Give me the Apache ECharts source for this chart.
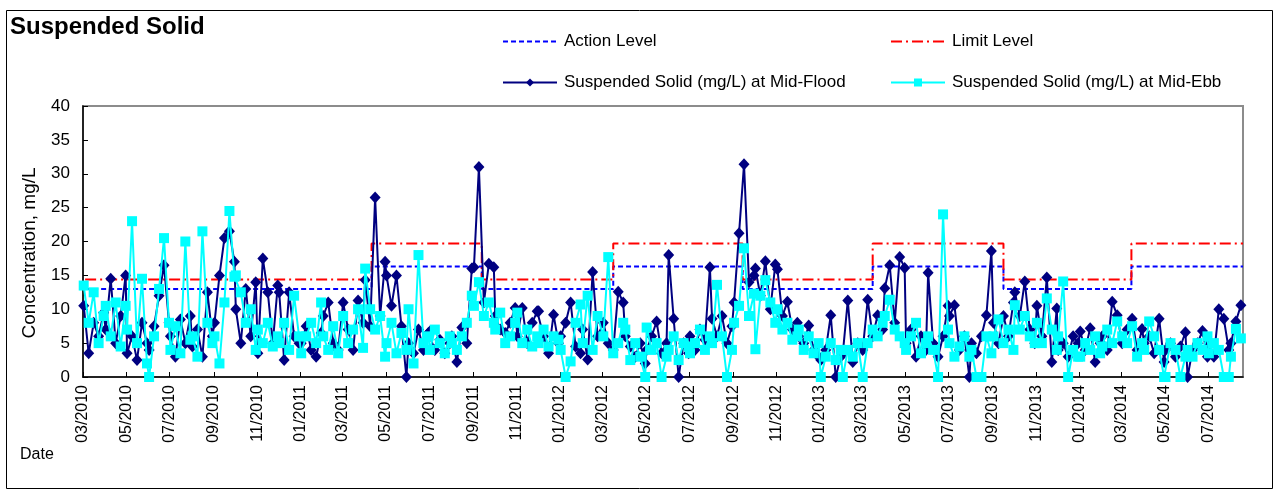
<!DOCTYPE html>
<html>
<head>
<meta charset="utf-8">
<script src="https://cdn.jsdelivr.net/npm/echarts@6/dist/echarts.min.js"></script>
<style>
html,body{margin:0;padding:0;background:#fff;}
#chart{width:1278px;height:490px;}
</style>
</head>
<body>
<div id="chart"></div>
<script>
// ---- Data ----
const dates = [
'2010-03-02','2010-03-09','2010-03-16','2010-03-23','2010-03-30',
'2010-04-02','2010-04-09','2010-04-16','2010-04-23','2010-04-30',
'2010-05-02','2010-05-09','2010-05-16','2010-05-23','2010-05-30',
'2010-06-02','2010-06-09','2010-06-16','2010-06-23','2010-06-30',
'2010-07-02','2010-07-09','2010-07-16','2010-07-23','2010-07-30',
'2010-08-02','2010-08-09','2010-08-16','2010-08-23','2010-08-30',
'2010-09-02','2010-09-09','2010-09-16','2010-09-23','2010-09-30',
'2010-10-02','2010-10-09','2010-10-16','2010-10-23','2010-10-30',
'2010-11-02','2010-11-09','2010-11-16','2010-11-23','2010-11-30',
'2010-12-02','2010-12-09','2010-12-16','2010-12-23','2010-12-30',
'2011-01-02','2011-01-09','2011-01-16','2011-01-23','2011-01-30',
'2011-02-02','2011-02-09','2011-02-16','2011-02-23',
'2011-03-02','2011-03-09','2011-03-16','2011-03-23','2011-03-30',
'2011-04-02','2011-04-09','2011-04-16','2011-04-23','2011-04-30',
'2011-05-02','2011-05-09','2011-05-16','2011-05-23','2011-05-30',
'2011-06-02','2011-06-09','2011-06-16','2011-06-23','2011-06-30',
'2011-07-02','2011-07-09','2011-07-16','2011-07-23','2011-07-30',
'2011-08-02','2011-08-09','2011-08-16','2011-08-23','2011-08-30',
'2011-09-02','2011-09-09','2011-09-16','2011-09-23','2011-09-30',
'2011-10-02','2011-10-09','2011-10-16','2011-10-23','2011-10-30',
'2011-11-02','2011-11-09','2011-11-16','2011-11-23','2011-11-30',
'2011-12-02','2011-12-09','2011-12-16','2011-12-23','2011-12-30',
'2012-01-02','2012-01-09','2012-01-16','2012-01-23','2012-01-30',
'2012-02-02','2012-02-09','2012-02-16','2012-02-23',
'2012-03-02','2012-03-09','2012-03-16','2012-03-23','2012-03-30',
'2012-04-02','2012-04-09','2012-04-16','2012-04-23','2012-04-30',
'2012-05-02','2012-05-09','2012-05-16','2012-05-23','2012-05-30',
'2012-06-02','2012-06-09','2012-06-16','2012-06-23','2012-06-30',
'2012-07-02','2012-07-09','2012-07-16','2012-07-23','2012-07-30',
'2012-08-02','2012-08-09','2012-08-16','2012-08-23','2012-08-30',
'2012-09-02','2012-09-09','2012-09-16','2012-09-23','2012-09-30',
'2012-10-02','2012-10-09','2012-10-16','2012-10-23','2012-10-30',
'2012-11-02','2012-11-09','2012-11-16','2012-11-23','2012-11-30',
'2012-12-02','2012-12-09','2012-12-16','2012-12-23','2012-12-30',
'2013-01-02','2013-01-09','2013-01-16','2013-01-23','2013-01-30',
'2013-02-02','2013-02-09','2013-02-16','2013-02-23',
'2013-03-02','2013-03-09','2013-03-16','2013-03-23','2013-03-30',
'2013-04-02','2013-04-09','2013-04-16','2013-04-23','2013-04-30',
'2013-05-02','2013-05-09','2013-05-16','2013-05-23','2013-05-30',
'2013-06-02','2013-06-09','2013-06-16','2013-06-23','2013-06-30',
'2013-07-02','2013-07-09','2013-07-16','2013-07-23','2013-07-30',
'2013-08-02','2013-08-09','2013-08-16','2013-08-23','2013-08-30',
'2013-09-02','2013-09-09','2013-09-16','2013-09-23','2013-09-30',
'2013-10-02','2013-10-09','2013-10-16','2013-10-23','2013-10-30',
'2013-11-02','2013-11-09','2013-11-16','2013-11-23','2013-11-30',
'2013-12-02','2013-12-09','2013-12-16','2013-12-23','2013-12-30',
'2014-01-02','2014-01-09','2014-01-16','2014-01-23','2014-01-30',
'2014-02-02','2014-02-09','2014-02-16','2014-02-23',
'2014-03-02','2014-03-09','2014-03-16','2014-03-23','2014-03-30',
'2014-04-02','2014-04-09','2014-04-16','2014-04-23','2014-04-30',
'2014-05-02','2014-05-09','2014-05-16','2014-05-23','2014-05-30',
'2014-06-02','2014-06-09','2014-06-16','2014-06-23','2014-06-30',
'2014-07-02','2014-07-09','2014-07-16','2014-07-23','2014-07-30',
'2014-08-02','2014-08-09','2014-08-16'
];

const midFlood = [
10.5,3.5,8,6,9.5,
7,14.5,5,9,15,
3.5,6,2.5,8,5,
4,7.5,12,16.5,8,
6,3,8.5,5,9,
4.5,7,3,12.5,6,
8,15,20.5,21.5,17,
10,5,13,6,14,
3.5,17.5,12.5,5,13.5,
12.5,2.5,12.5,6,5,
5,7.5,4,3,6.5,
9,11,5,4,
11,7,4,11.3,8,
14.3,7.5,26.5,9,17,
15,10.5,15,7.5,0,
5,3.5,7,4,6.5,
6.7,4,5.5,3.5,5,
6,2.2,7.3,5,16,
16.2,31,11,16.7,16.2,
9,7,6.5,8,10.2,
6,10.2,5,8,9.7,
9.7,6,3.5,9.2,5,
6,8,11,4.5,3.5,
7,2.6,15.5,6,
8,5,4,12.6,11,
6,4.5,3,5,2,
4,6,8.2,3.5,5,
18,8.6,0,5,3.5,
6,4,7,5.5,16.2,
8.6,6,9,5,7.5,
11,21.2,31.4,14,15,
16,12,17.1,10,16.6,
15.9,9,11.1,7,8,
6,5,7.6,4,3,
2.5,4,9.1,0,3,
3.5,11.3,2.2,5,
4,11.4,6,9.1,7,
13.1,16.5,8,17.7,16.1,
5,7,3,6,4,
15.4,5,3,6,10.5,
9,10.6,4,6,0,
5,3.5,6,9.1,18.6,
8,5,9,6,11,
12.5,9,14.1,7,5,
10.5,6,14.7,2.2,10.1,
4,5,3,6,5,
6.7,4,7.2,2.2,5,
6,4,11.1,9.1,
5,7,8.6,4,7.1,
5,6,3.5,8.6,2.2,
4,5,3,4.5,6.6,
0,4,5,6.8,3,
5,3,10,8.6,4,
5,8.2,10.6
];

const midEbb = [
13.5,8,12.5,5,9,
10.5,6,11,4.5,10.5,
7,23,5,14.5,2,
0,6,13,20.5,8,
4,7.5,3.5,20,5.5,
6,3,21.5,8,5,
6,2,11,24.5,14.8,
15,12.5,8,10,4,
7,5,8,4.5,6,
5,8,4,12,6,
3.5,6,8,5,11,
6,4,7.5,3.5,
9,5,7,10,4.3,
16,10,7,9,3,
5,8,3.5,6.5,4,
10,2,18,5,6,
4,7,5,3.5,6,
5,4,6,8,12,
10.5,14,9,11,8,
7,9.5,5,6,8,
9.5,5,7,4.5,6,
5,7,4.5,6,5.5,
4,0,2.3,8,10.7,
5,12,4,9,
6,17.7,3.5,5,8,
7,2.5,5,3,0,
7.3,4,5,0,3,
4,6,2.5,5,4.5,
3.5,5,7,4,6,
5,13.6,6,0,4,
8,10.5,19,9,12.3,
4.1,12,14.3,11,8,
10,7,8,5.5,6,
7,4,6,3.5,5,
0,3,5,2.5,4,
0,4,3,5,
0,5,7,6,8,
9,11.4,7,6,5,
4,6,8,3.5,5,
6,4,0,24,7,
5,3,4.5,6,3,
4,0,0,6,3.5,
6,8.5,5,7,4,
10.6,7,9,6,5,
8,5,11.6,7,4,
6,14.1,0,4,3,
3,5,4,6,3.5,
4.5,7,5,8.2,
6,5,7.5,3,5,
4,8.2,6,4,0,
0,5,4,0,3,
4,3,5,4,6,
3.5,5,4,0,0,
3,7.1,5.7
];

// Action / Limit level step changes
const levelDates  = ['2010-03-04','2011-04-11','2011-09-13','2012-03-16','2012-09-14','2013-03-16','2013-09-16','2014-03-15','2014-08-19'];
const actionLevel = [13.0,16.3,13.0,16.3,13.0,16.3,13.0,16.3,16.3];
const limitLevel  = [14.4,19.7,14.4,19.7,14.4,19.7,14.4,19.7,19.7];

// x-axis tick labels
const tickLabels = ['03/2010','05/2010','07/2010','09/2010','11/2010','01/2011','03/2011','05/2011','07/2011','09/2011','11/2011',
  '01/2012','03/2012','05/2012','07/2012','09/2012','11/2012','01/2013','03/2013','05/2013','07/2013','09/2013','11/2013',
  '01/2014','03/2014','05/2014','07/2014'];
const yTicks = [0,5,10,15,20,25,30,35,40];
const axisStart = '2010-03-01';
const axisEnd = '2014-08-19';

// ---- helpers ----
function parseDate(s){ const p=s.split('-').map(Number); return Date.UTC(p[0],p[1]-1,p[2]||1); }
function parseTick(s){ const p=s.split('/').map(Number); return Date.UTC(p[1],p[0]-1,1); }
function fmt(v){
  const i = tickValues.indexOf(v);
  if (i >= 0) return tickLabels[i];
  const d=new Date(v); const m=d.getUTCMonth()+1; return (m<10?'0':'')+m+'/'+d.getUTCFullYear();
}

const tickValues = tickLabels.map(parseTick);
const FONT = '"Liberation Sans", Arial, sans-serif';

const floodData = dates.map((d,i)=>[parseDate(d), midFlood[i]]);
const ebbData = dates.map((d,i)=>[parseDate(d), midEbb[i]]);
const actionData = levelDates.map((d,i)=>[parseDate(d), actionLevel[i]]);
const limitData = levelDates.map((d,i)=>[parseDate(d), limitLevel[i]]);

const chart = echarts.init(document.getElementById('chart'), null, {renderer:'canvas'});

function legendAt(name, left, top, hideSymbol){
  const l = {
    data:[name], left:left, top:top, padding:0, itemWidth:54, itemHeight:10, itemGap:0,
    textStyle:{fontFamily:FONT, fontSize:17, color:'#000', padding:[0,0,0,2]},
    selectedMode:false
  };
  if (hideSymbol) l.itemStyle = {opacity:0};
  return l;
}

chart.setOption({
  animation:false,
  backgroundColor:'#fff',
  textStyle:{fontFamily:FONT},
  grid:{left:83, right:35, top:106, bottom:113, show:true, borderColor:'#8c8c8c', borderWidth:2, backgroundColor:'transparent'},
  legend:[
    legendAt('Action Level', 502, 33, true),
    legendAt('Limit Level', 890, 33, true),
    legendAt('Suspended Solid (mg/L) at Mid-Flood', 502, 74, false),
    legendAt('Suspended Solid (mg/L) at Mid-Ebb', 890, 74, false)
  ],
  xAxis:{
    type:'value', min:parseDate(axisStart), max:parseDate(axisEnd), scale:true,
    axisLine:{show:true, onZero:false, lineStyle:{color:'#000', width:1.5}},
    axisTick:{show:true, inside:true, length:5, customValues:tickValues, lineStyle:{color:'#000', width:1}},
    axisLabel:{show:true, rotate:90, margin:8, customValues:tickValues, formatter:function(v){return fmt(v);},
      fontFamily:FONT, fontSize:16, color:'#000', hideOverlap:false},
    splitLine:{show:false}
  },
  yAxis:{
    type:'value', min:0, max:40, interval:5,
    axisLine:{show:true, lineStyle:{color:'#000', width:1.5}},
    axisTick:{show:true, inside:true, length:5, lineStyle:{color:'#000'}},
    axisLabel:{margin:13, fontFamily:FONT, fontSize:17, color:'#000'},
    splitLine:{show:false}
  },
  graphic:[
    {type:'rect', left:4, top:8, shape:{width:1266, height:478}, style:{fill:'none', stroke:'#000', lineWidth:1}, silent:true, z:-1},
    {type:'text', left:10, top:15, style:{text:'Suspended Solid', font:'bold 24px '+FONT, fill:'#000'}},
    {type:'text', x:30, y:253, rotation:Math.PI/2, style:{text:'Concentration, mg/L', font:'19px '+FONT, fill:'#000', align:'center', verticalAlign:'middle'}},
    {type:'text', left:20, top:447, style:{text:'Date', font:'16px '+FONT, fill:'#000'}}
  ],
  series:[
    {name:'Action Level', type:'line', data:actionData, step:'end', symbol:'none',
      lineStyle:{color:'#0000ff', width:2, type:[5,3]}, itemStyle:{color:'#0000ff'}, z:2},
    {name:'Limit Level', type:'line', data:limitData, step:'end', symbol:'none',
      lineStyle:{color:'#ff0000', width:2, type:[11,4,2,4]}, itemStyle:{color:'#ff0000'}, z:2},
    {name:'Suspended Solid (mg/L) at Mid-Flood', type:'line', data:floodData, symbol:'diamond', symbolSize:[11,12],
      lineStyle:{color:'#000080', width:2}, itemStyle:{color:'#000080'}, z:3},
    {name:'Suspended Solid (mg/L) at Mid-Ebb', type:'line', data:ebbData, symbol:'rect', symbolSize:10,
      lineStyle:{color:'#00ffff', width:2}, itemStyle:{color:'#00ffff'}, z:4}
  ]
});
</script>
</body>
</html>
